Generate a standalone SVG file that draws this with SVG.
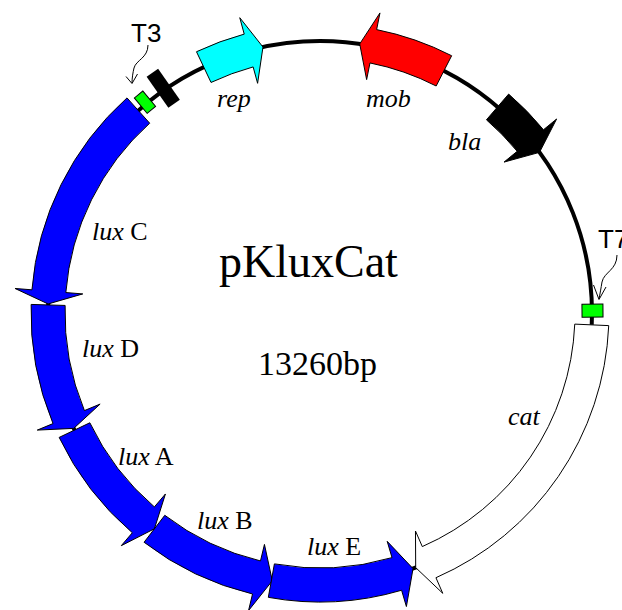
<svg xmlns="http://www.w3.org/2000/svg" width="622" height="610" viewBox="0 0 622 610">
<style>
.gene{stroke:#000;stroke-width:1;stroke-linejoin:miter}
.lbl{font-family:"Liberation Serif","Times New Roman",serif;font-size:26px;fill:#000}
.it{font-style:italic}
.sans{font-family:"Liberation Sans",Arial,sans-serif;font-size:26px;fill:#000}
.ptr{fill:none;stroke:#000;stroke-width:1}
.term{fill:#00ff00;stroke:#000;stroke-width:1}
</style>
<rect width="622" height="610" fill="#fff"/>
<g id="backbone">
<circle cx="320" cy="313" r="272" fill="none" stroke="#000" stroke-width="4"/>
</g>
<g id="T3-site">
<rect class="term" x="314.5" y="29" width="11" height="20" transform="rotate(-39.7 320 313)"/>
</g>
<g id="terminator">
<rect x="313" y="20" width="14" height="38" fill="#000" transform="rotate(-34.9 320 313)"/>
</g>
<g id="T7-site">
<rect class="term" x="313.5" y="30" width="13" height="21" transform="rotate(89.5 320 313)"/>
</g>
<g id="rep">
<path class="gene" fill="#00ffff" d="M196.49,51.72 A289,289 0 0 1 244.23,34.11 L239.77,17.70 L262.98,47.04 L257.60,83.32 L253.14,66.92 A255,255 0 0 0 211.02,82.45 Z"/>
<text class="lbl it" x="217" y="107">rep</text>
</g>
<g id="mob">
<path class="gene" fill="#ff0000" d="M451.65,55.73 A289,289 0 0 0 376.63,29.60 L379.96,12.93 L359.73,43.91 L366.64,79.61 L369.97,62.94 A255,255 0 0 1 436.17,85.99 Z"/>
<text class="lbl it" x="366" y="107">mob</text>
</g>
<g id="bla">
<path class="gene" fill="#000" d="M508.65,94.07 A289,289 0 0 1 543.48,129.76 L556.62,118.98 L539.50,152.35 L504.04,162.09 L517.19,151.31 A255,255 0 0 0 486.45,119.82 Z"/>
<text class="lbl it" x="448" y="150">bla</text>
</g>
<g id="cat">
<path class="gene" fill="#fff" d="M608.73,325.61 A289,289 0 0 1 435.94,577.73 L442.75,593.31 L415.70,567.61 L415.48,531.02 L422.30,546.59 A255,255 0 0 0 574.76,324.12 Z"/>
<text class="lbl it" x="508" y="425">cat</text>
</g>
<g id="luxC">
<path class="gene" fill="#0000ff" d="M127.00,97.89 A289,289 0 0 0 31.93,289.82 L14.99,288.46 L48.15,303.98 L82.77,293.91 L65.82,292.55 A255,255 0 0 1 149.70,123.20 Z"/>
<text class="lbl" x="92" y="240"><tspan class="it">lux</tspan> C</text>
</g>
<g id="luxD">
<path class="gene" fill="#0000ff" d="M31.13,304.43 A289,289 0 0 0 53.00,423.59 L37.29,430.10 L73.68,428.38 L100.12,404.08 L84.41,410.58 A255,255 0 0 1 65.11,305.43 Z"/>
<text class="lbl" x="82" y="357"><tspan class="it">lux</tspan> D</text>
</g>
<g id="luxA">
<path class="gene" fill="#0000ff" d="M59.15,437.42 A289,289 0 0 0 132.31,532.76 L121.27,545.68 L154.42,528.79 L165.43,493.98 L154.39,506.90 A255,255 0 0 1 89.84,422.78 Z"/>
<text class="lbl" x="118" y="465"><tspan class="it">lux</tspan> A</text>
</g>
<g id="luxB">
<path class="gene" fill="#0000ff" d="M144.07,542.28 A289,289 0 0 0 252.53,594.01 L248.56,610.55 L272.30,580.79 L264.44,544.42 L260.47,560.95 A255,255 0 0 1 164.77,515.30 Z"/>
<text class="lbl" x="197" y="529"><tspan class="it">lux</tspan> B</text>
</g>
<g id="luxE">
<path class="gene" fill="#0000ff" d="M268.32,597.35 A289,289 0 0 0 401.60,590.25 L406.40,606.56 L413.03,568.60 L387.20,541.32 L392.00,557.63 A255,255 0 0 1 274.40,563.89 Z"/>
<text class="lbl" x="307" y="555"><tspan class="it">lux</tspan> E</text>
</g>
<g id="title">
<text class="lbl" x="219" y="277" font-size="46" style="font-size:46px">pKluxCat</text>
<text class="lbl" x="258" y="375" style="font-size:34px">13260bp</text>
</g>
<g id="connectors">
<path class="ptr" d="M148,45 C148,58 136,60 134,68 C133,72 132,78 132,83"/>
<path class="ptr" d="M126,76.5 L132,83.5 L137.5,74"/>
<path class="ptr" d="M617,255 C617,270 604,272 602,282 C601,288 600,294 599,299"/>
<path class="ptr" d="M593.5,285 L599,299.5 L606,287"/>
</g>
<g id="T3-label"><text class="sans" x="131" y="42">T3</text></g>
<g id="T7-label"><text class="sans" x="598" y="248">T7</text></g>
</svg>
